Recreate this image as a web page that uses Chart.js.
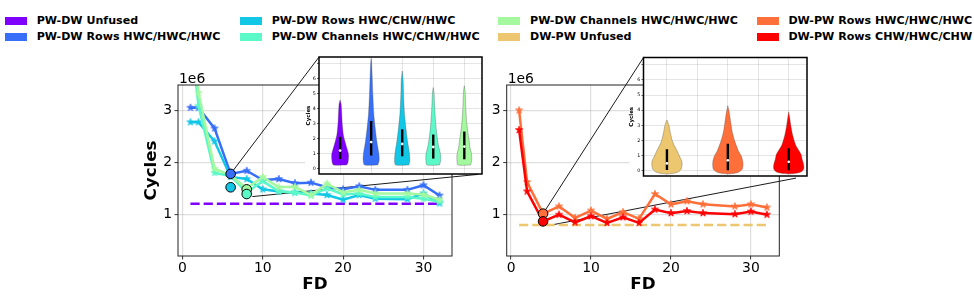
<!DOCTYPE html>
<html><head><meta charset="utf-8">
<script src="https://cdn.jsdelivr.net/npm/chart.js@4.4.0/dist/chart.umd.min.js"></script>
<style>
html,body{margin:0;padding:0;background:#fff;width:974px;height:296px;overflow:hidden;font-family:"DejaVu Sans",sans-serif;}
canvas{position:absolute;}
.lg{position:absolute;font:bold 11.1px "DejaVu Sans";white-space:nowrap;line-height:16px;color:#000;}
.sw{position:absolute;width:22.2px;height:7.8px;}
</style></head><body>
<div id="legend"></div>
<canvas id="mainL" width="350" height="246" style="left:128px;top:50px"></canvas>
<canvas id="mainR" width="330" height="246" style="left:466px;top:50px"></canvas>
<canvas id="insetL" width="196" height="130" style="left:290px;top:50px"></canvas>
<canvas id="insetR" width="197" height="132" style="left:614px;top:50px"></canvas>
<script>
// ---------------- DATA ----------------
const FD = [1, 2, 4, 6, 8, 10, 12, 14, 16, 18, 20, 22, 24, 28, 30, 32];
const xTicks = [0, 10, 20, 30];
const yTicks = [1e6, 2e6, 3e6];
const seriesNames = [
  'PW-DW Unfused', 'PW-DW Rows HWC/HWC/HWC', 'PW-DW Rows HWC/CHW/HWC', 'PW-DW Channels HWC/CHW/HWC',
  'PW-DW Channels HWC/HWC/HWC', 'DW-PW Unfused', 'DW-PW Rows HWC/HWC/HWC', 'DW-PW Rows CHW/HWC/CHW'
];
const colors = ['#8000ff', '#376ff9', '#12c7e6', '#5bf9c7', '#a4f99f', '#edc76f', '#ff6f39', '#ff0000'];

// PW-DW (left)
const pwdwUnfused = 1.2e6;
const pwdwRowsHWC     = [3.06e6, 3.06e6, 2.66e6, 1.78e6, 1.84e6, 1.66e6, 1.68e6, 1.60e6, 1.61e6, 1.52e6, 1.48e6, 1.54e6, 1.47e6, 1.47e6, 1.56e6, 1.36e6];
const pwdwRowsCHW     = [2.78e6, 2.78e6, 2.41e6, 1.72e6, 1.68e6, 1.48e6, 1.44e6, 1.42e6, 1.40e6, 1.37e6, 1.28e6, 1.37e6, 1.30e6, 1.29e6, 1.40e6, 1.21e6];
const pwdwChannelsCHW = [4.50e6, 3.10e6, 1.80e6, 1.74e6, 1.42e6, 1.64e6, 1.44e6, 1.42e6, 1.36e6, 1.50e6, 1.38e6, 1.40e6, 1.33e6, 1.33e6, 1.30e6, 1.24e6];
const pwdwChannelsHWC = [4.80e6, 3.35e6, 1.88e6, 1.75e6, 1.50e6, 1.72e6, 1.52e6, 1.53e6, 1.37e6, 1.59e6, 1.42e6, 1.47e6, 1.40e6, 1.40e6, 1.38e6, 1.28e6];
// DW-PW (right)
const dwpwUnfused = 0.79e6;
const dwpwRowsHWC = [3.01e6, 1.62e6, 1.01e6, 1.15e6, 0.93e6, 1.07e6, 0.91e6, 1.04e6, 0.91e6, 1.39e6, 1.19e6, 1.25e6, 1.19e6, 1.15e6, 1.19e6, 1.13e6];
const dwpwRowsCHW = [2.63e6, 1.44e6, 0.86e6, 0.99e6, 0.84e6, 0.96e6, 0.83e6, 0.94e6, 0.83e6, 1.09e6, 1.02e6, 1.06e6, 1.02e6, 1.00e6, 1.05e6, 0.99e6];

// highlighted (circled) configurations
const pwdwBestFD = [6, 6, 8, 8];
const pwdwBestCycles = [1.78e6, 1.52e6, 1.48e6, 1.39e6];
const pwdwBestSeries = [1, 2, 4, 3];
const dwpwBestFD = [4, 4];
const dwpwBestCycles = [1.01e6, 0.86e6];
const dwpwBestSeries = [6, 7];

// zoomed region (data coords) linked to the insets
const pwdwZoomFrom = [6, 1.78e6], pwdwZoomTo = [8.7, 1.34e6];
const dwpwZoomFrom = [4, 1.01e6], dwpwZoomTo = [4.7, 0.78e6];

// Violin insets (millions of cycles): profile levels and half widths (category units)
const pwdwViolinLevels = [
  [0.22, 0.4, 0.9, 1.3, 1.6, 2.2, 2.7, 3.1, 3.6, 4.0, 4.3, 4.56],
  [0.22, 0.5, 0.9, 1.4, 1.8, 2.7, 3.6, 4.9, 6.2, 7.0, 7.33],
  [0.22, 0.5, 0.9, 1.4, 1.8, 2.7, 3.6, 4.9, 5.8, 6.49],
  [0.22, 0.5, 0.9, 1.4, 1.6, 2.2, 3.1, 4.2, 5.0, 5.38],
  [0.22, 0.5, 0.9, 1.4, 1.6, 2.2, 3.1, 4.2, 5.1, 5.5]
];
const pwdwViolinHalf = [
  [0.214, 0.257, 0.273, 0.225, 0.182, 0.107, 0.080, 0.064, 0.054, 0.043, 0.032, 0],
  [0.214, 0.257, 0.252, 0.214, 0.182, 0.129, 0.086, 0.054, 0.032, 0.016, 0],
  [0.214, 0.246, 0.236, 0.204, 0.171, 0.118, 0.075, 0.043, 0.032, 0],
  [0.204, 0.236, 0.236, 0.182, 0.161, 0.118, 0.075, 0.043, 0.027, 0],
  [0.204, 0.236, 0.236, 0.182, 0.171, 0.129, 0.075, 0.043, 0.027, 0]
];
const pwdwQ1 = [0.62, 0.85, 0.80, 0.65, 0.60];
const pwdwMedian = [1.18, 1.75, 1.62, 1.42, 1.45];
const pwdwQ3 = [2.10, 3.15, 2.60, 2.25, 2.45];

const dwpwViolinLevels = [
  [-0.2, -0.15, -0.05, 0.15, 0.6, 1.0, 1.3, 1.9, 2.6, 3.0, 3.36],
  [-0.2, -0.15, -0.05, 0.15, 0.6, 1.0, 1.3, 2.0, 2.6, 3.3, 3.9, 4.3],
  [-0.2, -0.15, -0.05, 0.15, 0.4, 0.8, 1.1, 1.7, 2.3, 2.9, 3.5, 3.9]
];
const dwpwViolinHalf = [
  [0, 0.110, 0.190, 0.236, 0.247, 0.203, 0.170, 0.095, 0.052, 0.033, 0],
  [0, 0.110, 0.190, 0.241, 0.247, 0.219, 0.176, 0.110, 0.071, 0.044, 0.022, 0],
  [0, 0.120, 0.208, 0.247, 0.247, 0.219, 0.203, 0.115, 0.068, 0.038, 0.016, 0]
];
const dwpwQ1 = [0.07, 0.05, 0.05];
const dwpwMedian = [0.50, 0.70, 0.60];
const dwpwQ3 = [1.43, 1.80, 1.50];

const insetYTicks = [0, 1, 2, 3, 4, 5, 6, 7];
const insetYLabels = ['0', '1', '2', '3', '4', '5', '6', ''];

// ---------------- RENDERING ----------------
Chart.defaults.font.family = '"DejaVu Sans", sans-serif';
Chart.defaults.color = '#000';
Chart.defaults.animation = false;

// legend (column-major, 2 rows)
(function () {
  const lg = document.getElementById('legend');
  const colX = [5, 240, 498.3, 756.7], rowY = [20.7, 36.7];
  seriesNames.forEach((name, i) => {
    const c = Math.floor(i / 2), r = i % 2;
    const sw = document.createElement('div'); sw.className = 'sw';
    sw.style.left = colX[c] + 'px'; sw.style.top = (rowY[r] - 3.9) + 'px'; sw.style.background = colors[i];
    const tx = document.createElement('div'); tx.className = 'lg';
    tx.style.left = (colX[c] + 31.7) + 'px'; tx.style.top = (rowY[r] - 8) + 'px'; tx.textContent = name;
    lg.appendChild(sw); lg.appendChild(tx);
  });
})();

function starImg(color, r) {
  const c = document.createElement('canvas'); const s = Math.ceil(r * 2 + 2);
  c.width = s; c.height = s;
  const g = c.getContext('2d'); g.translate(s / 2, s / 2); g.beginPath();
  for (let k = 0; k < 10; k++) {
    const rad = k % 2 ? r * 0.382 : r; const a = -Math.PI / 2 + k * Math.PI / 5;
    g.lineTo(rad * Math.cos(a), rad * Math.sin(a));
  }
  g.closePath(); g.fillStyle = color; g.fill(); g.strokeStyle = color; g.lineWidth = 0.8; g.stroke();
  return c;
}

function offsetOf(canvas) { return { left: parseFloat(canvas.style.left), top: parseFloat(canvas.style.top) }; }

// ---- insets ----
const insetFrame = {
  id: 'insetFrame',
  beforeDraw(chart) {
    const { ctx, chartArea: a } = chart;
    ctx.save(); ctx.fillStyle = '#fff'; ctx.fillRect(a.left, a.top, a.right - a.left, a.bottom - a.top); ctx.restore();
  },
  afterDraw(chart) {
    const { ctx, chartArea: a } = chart;
    ctx.save(); ctx.strokeStyle = '#000'; ctx.lineWidth = 1.5;
    ctx.strokeRect(a.left, a.top, a.right - a.left, a.bottom - a.top); ctx.restore();
  }
};

function makeInset(id, levels, halfs, q1, med, q3, colorOffset, xr, yr, xGrid, yW, titlePad, pad) {
  const ds = [];
  levels.forEach((L, i) => {
    const W = halfs[i];
    const pts = L.map((v, k) => ({ x: i + W[k], y: v }));
    for (let k = L.length - 1; k >= 0; k--) pts.push({ x: i - W[k], y: L[k] });
    pts.push({ x: i + W[0], y: L[0] });
    ds.push({ data: pts, showLine: true, fill: 'shape', backgroundColor: colors[colorOffset + i],
      borderColor: 'rgba(70,70,70,0.55)', borderWidth: 0.6, pointRadius: 0, tension: 0.25, order: 3 });
    ds.push({ data: [{ x: i, y: q1[i] }, { x: i, y: q3[i] }], showLine: true, borderColor: '#000',
      borderWidth: 2.4, pointRadius: 0, order: 2 });
    ds.push({ data: [{ x: i, y: med[i] }], pointRadius: 1.4, pointBackgroundColor: '#fff', pointBorderWidth: 0, order: 1 });
  });
  return new Chart(document.getElementById(id), {
    type: 'scatter',
    data: { datasets: ds },
    options: {
      responsive: false, devicePixelRatio: 1,
      layout: { padding: pad },
      plugins: { legend: { display: false }, tooltip: { enabled: false } },
      scales: {
        x: { type: 'linear', min: xr[0], max: xr[1],
          afterBuildTicks: s => { s.ticks = xGrid.map(v => ({ value: v })); },
          afterFit: s => { s.height = 0; },
          ticks: { display: false },
          grid: { color: 'rgba(0,0,0,0.1)', lineWidth: 1, drawTicks: false },
          border: { display: false } },
        y: { type: 'linear', min: yr[0], max: yr[1],
          afterBuildTicks: s => { s.ticks = insetYTicks.map(v => ({ value: v })); },
          afterFit: s => { s.width = yW; },
          ticks: { font: { size: 4.8 }, padding: 1.2, callback: (v) => insetYLabels[insetYTicks.indexOf(v)] },
          grid: { color: 'rgba(0,0,0,0.1)', lineWidth: 1, tickLength: 2, tickColor: '#000', tickWidth: 0.6 },
          border: { display: false },
          title: { display: true, text: 'Cycles', font: { size: 5.5, weight: 'bold' }, padding: { top: titlePad, bottom: 0 } } }
      }
    },
    plugins: [insetFrame]
  });
}

const insetL = makeInset('insetL', pwdwViolinLevels, pwdwViolinHalf, pwdwQ1, pwdwMedian, pwdwQ3, 0,
  [-0.68, 4.57], [-0.38, 7.42], [0, 1, 2, 3, 4], 29, 15, { top: 7, right: 4, bottom: 6, left: 0 });
const insetR = makeInset('insetR', dwpwViolinLevels, dwpwViolinHalf, dwpwQ1, dwpwMedian, dwpwQ3, 5,
  [-0.385, 2.30], [-0.33, 7.47], [0, 0.5, 1, 1.5, 2], 29.5, 14.4, { top: 7.5, right: 4, bottom: 6, left: 0 });

function insetBoxPage(chart) {
  const o = offsetOf(chart.canvas), a = chart.chartArea;
  return { left: o.left + a.left, top: o.top + a.top, right: o.left + a.right, bottom: o.top + a.bottom };
}

// ---- main charts ----
const decor = {
  id: 'decor',
  beforeDatasetsDraw(chart, args, opt) {
    const { ctx, chartArea: a, scales } = chart;
    const o = offsetOf(chart.canvas), ib = opt.inset;
    ctx.save();
    ctx.beginPath(); ctx.rect(a.left, a.top, a.right - a.left, a.bottom - a.top); ctx.clip();
    ctx.fillStyle = '#fff';
    ctx.fillRect(ib.left - 14 - o.left, ib.top - o.top, ib.right - ib.left + 14, ib.bottom - ib.top);
    ctx.restore();
    ctx.save(); ctx.strokeStyle = '#000'; ctx.lineWidth = 0.9;
    const p1x = scales.x.getPixelForValue(opt.from[0]), p1y = scales.y.getPixelForValue(opt.from[1]);
    const p2x = scales.x.getPixelForValue(opt.to[0]), p2y = scales.y.getPixelForValue(opt.to[1]);
    ctx.beginPath();
    ctx.moveTo(p1x, p1y); ctx.lineTo(ib.left - o.left, ib.top - o.top);
    ctx.moveTo(p2x, p2y); ctx.lineTo(ib.right - o.left, ib.bottom - o.top);
    ctx.stroke(); ctx.restore();
  },
  afterDraw(chart) {
    const { ctx, chartArea: a } = chart;
    ctx.save(); ctx.strokeStyle = '#222'; ctx.lineWidth = 1;
    ctx.strokeRect(a.left, a.top, a.right - a.left, a.bottom - a.top);
    ctx.fillStyle = '#000'; ctx.font = '13.9px "DejaVu Sans"'; ctx.textBaseline = 'alphabetic'; ctx.textAlign = 'left';
    ctx.fillText('1e6', a.left + 1, a.top - 1.7);
    ctx.restore();
  }
};

function lineDs(vals, ci, order) {
  return { data: FD.map((x, i) => ({ x, y: vals[i] })), showLine: true, borderColor: colors[ci], backgroundColor: colors[ci],
    borderWidth: 2.5, pointStyle: starImg(colors[ci], 3.8), pointRadius: 4, order };
}
function dashDs(v, ci) {
  return { data: [{ x: FD[0], y: v }, { x: FD[FD.length - 1], y: v }], showLine: true, borderColor: colors[ci],
    borderWidth: 2.5, borderDash: [9.2, 4], pointRadius: 0, order: 10 };
}
function bestDs(fd, cyc, ser) {
  return { data: fd.map((x, i) => ({ x, y: cyc[i] })), showLine: false, pointRadius: 4.8,
    pointBackgroundColor: ser.map(s => colors[s]), pointBorderColor: '#000', pointBorderWidth: 1, order: -1 };
}

function makeMain(id, datasets, yW, showTitle, padR, decorOpt) {
  return new Chart(document.getElementById(id), {
    type: 'scatter',
    data: { datasets },
    options: {
      responsive: false, devicePixelRatio: 1,
      layout: { padding: { top: 35, right: padR, bottom: 0, left: 0 } },
      plugins: { legend: { display: false }, tooltip: { enabled: false }, decor: decorOpt },
      scales: {
        x: { type: 'linear', min: -0.55, max: 33.55,
          afterBuildTicks: s => { s.ticks = xTicks.map(v => ({ value: v })); },
          afterFit: s => { s.height = 40; },
          ticks: { font: { size: 13.9 }, padding: 0.3, maxRotation: 0 },
          grid: { color: 'rgba(0,0,0,0.13)', lineWidth: 1.2, tickLength: 3.5, tickColor: '#000', tickWidth: 0.8 },
          border: { display: false },
          title: { display: true, text: 'FD', font: { size: 16.7, weight: 'bold' }, padding: { top: 0, bottom: 1 } } },
        y: { type: 'linear', min: 0.19e6, max: 3.5e6,
          afterBuildTicks: s => { s.ticks = yTicks.map(v => ({ value: v })); },
          afterFit: s => { s.width = yW; },
          ticks: { font: { size: 13.9 }, padding: 2.5, callback: v => String(v / 1e6) },
          grid: { color: 'rgba(0,0,0,0.13)', lineWidth: 1.2, tickLength: 3.5, tickColor: '#000', tickWidth: 0.8 },
          border: { display: false },
          title: { display: showTitle, text: 'Cycles', font: { size: 16.7, weight: 'bold' }, padding: { top: 13.7, bottom: 0 } } }
      }
    },
    plugins: [decor]
  });
}

makeMain('mainL', [
  bestDs(pwdwBestFD, pwdwBestCycles, pwdwBestSeries),
  lineDs(pwdwChannelsHWC, 4, 1),
  lineDs(pwdwChannelsCHW, 3, 2),
  lineDs(pwdwRowsCHW, 2, 3),
  lineDs(pwdwRowsHWC, 1, 4),
  dashDs(pwdwUnfused, 0)
], 50, true, 26, { inset: insetBoxPage(insetL), from: pwdwZoomFrom, to: pwdwZoomTo });

makeMain('mainR', [
  bestDs(dwpwBestFD, dwpwBestCycles, dwpwBestSeries),
  lineDs(dwpwRowsCHW, 7, 1),
  lineDs(dwpwRowsHWC, 6, 2),
  dashDs(dwpwUnfused, 5)
], 40.7, false, 16.7, { inset: insetBoxPage(insetR), from: dwpwZoomFrom, to: dwpwZoomTo });
</script>
</body></html>
